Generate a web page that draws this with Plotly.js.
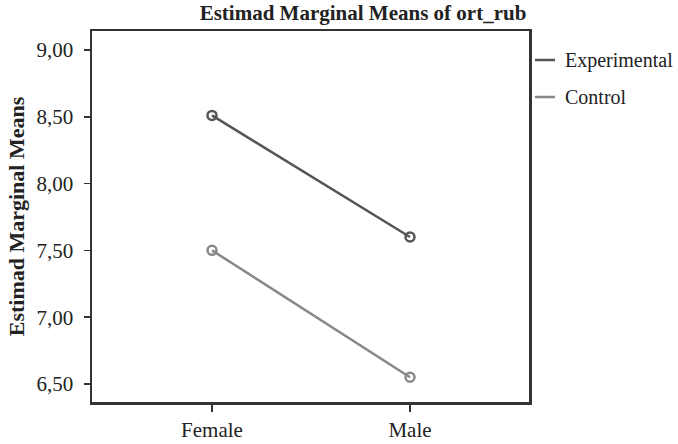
<!DOCTYPE html>
<html>
<head>
<meta charset="utf-8">
<script src="https://cdn.plot.ly/plotly-3.0.1.min.js"></script>
<style>html,body{margin:0;padding:0;background:#fff;}#chart{width:678px;height:444px;}</style>
</head>
<body>
<div id="chart"></div>
<script>
const categories = ["Female", "Male"];
const seriesNames = ["Experimental", "Control"];
const experimental = [8.51, 7.60];
const control = [7.50, 6.55];
const yTicks = [6.5, 7.0, 7.5, 8.0, 8.5, 9.0];

const colors = ["#555555", "#888888"];
const values = [experimental, control];
const font = "Liberation Serif, Times New Roman, serif";

const traces = values.map((v, i) => ({
  x: categories, y: v, name: seriesNames[i], type: "scatter", mode: "lines+markers",
  line: {color: colors[i], width: 2.5},
  marker: {symbol: "circle-open", size: 9, color: colors[i], line: {width: 2.5, color: colors[i]}},
  showlegend: false, hoverinfo: "skip"
}));

// manual legend (line sample + label) placed right of the plot frame
const legendY = [0.9218, 0.8221];
const shapes = seriesNames.map((n, i) => ({
  type: "line", xref: "paper", yref: "paper", x0: 1.0137, x1: 1.0595, y0: legendY[i], y1: legendY[i],
  line: {color: colors[i], width: 2.5}
}));
const annotations = seriesNames.map((n, i) => ({
  text: n, xref: "paper", yref: "paper", x: 1.0778, y: legendY[i], xanchor: "left", yanchor: "middle",
  showarrow: false, font: {family: font, size: 20, color: "#222"}
}));

const layout = {
  width: 678, height: 444,
  margin: {l: 92, r: 149, t: 31, b: 42},
  paper_bgcolor: "#fff", plot_bgcolor: "#fff",
  separators: ",.",
  font: {family: font, size: 21, color: "#222"},
  title: {text: "<b>Estimad Marginal Means of ort_rub</b>", font: {family: font, size: 21, color: "#222"},
          xref: "container", x: 363/678, xanchor: "center", yref: "container", y: 1 - 13/444, yanchor: "middle"},
  xaxis: {
    type: "category", categoryarray: categories, range: [-0.606, 1.601],
    showline: true, mirror: true, linecolor: "#333", linewidth: 2.5,
    ticks: "outside", ticklen: 7, tickwidth: 1.5, tickcolor: "#333",
    showgrid: false, zeroline: false, fixedrange: true,
    tickfont: {family: font, size: 21, color: "#222"}
  },
  yaxis: {
    range: [6.365, 9.142], tickvals: yTicks, tickformat: ".2f",
    showline: true, mirror: true, linecolor: "#333", linewidth: 2.5,
    ticks: "outside", ticklen: 6, tickwidth: 1.5, tickcolor: "#333",
    ticklabelstandoff: 6,
    showgrid: false, zeroline: false, fixedrange: true,
    tickfont: {family: font, size: 21, color: "#222"},
    title: {text: "<b>Estimad Marginal Means</b>", font: {family: font, size: 22, color: "#222"}, standoff: 6}
  },
  shapes: shapes,
  annotations: annotations,
  showlegend: false
};

Plotly.newPlot("chart", traces, layout, {displayModeBar: false, staticPlot: true});
</script>
</body>
</html>
